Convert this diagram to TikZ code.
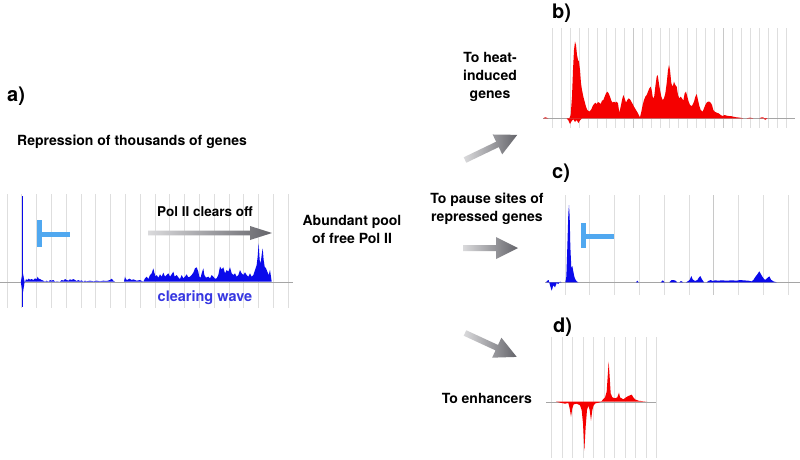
\documentclass[tikz,border=0pt]{standalone}
\usepackage{fontspec}
\setmainfont{TeX Gyre Heros}
\definecolor{sigblue}{RGB}{10,10,235}
\definecolor{sigred}{RGB}{245,0,0}
\definecolor{tblue}{RGB}{80,168,240}
\definecolor{wave}{RGB}{55,55,225}
\definecolor{gridc}{RGB}{222,222,222}
\definecolor{gridd}{RGB}{200,200,200}
\definecolor{basec}{RGB}{165,165,165}
\definecolor{arlight}{RGB}{218,218,220}
\definecolor{ardark}{RGB}{100,100,106}
\tikzset{
  lbl/.style={font=\bfseries\fontsize{14}{18}\selectfont, align=center, inner sep=0pt},
  panellbl/.style={font=\bfseries\fontsize{20}{22}\selectfont, inner sep=0pt, anchor=base west},
  gline/.style={gridc, line width=0.8pt},
  bline/.style={basec, line width=0.8pt},
  tbar/.style={tblue, line width=5pt},
  shadearrow/.style={left color=arlight, right color=ardark, draw=none}
}
\begin{document}
\begin{tikzpicture}[x=1pt,y=-1pt]
\useasboundingbox (0,0) rectangle (800,459);
\fill[white] (0,0) rectangle (800,459);

% ---------- labels ----------
\node[panellbl] (la) at (7,101) {a)};
\node[panellbl] (lb) at (552,18) {b)};
\node[panellbl] (lc) at (552,178) {c)};
\node[panellbl] (ld) at (553,332) {d)};
\node[lbl, anchor=base west] (rep) at (17,145) {Repression of thousands of genes};
\node[lbl] (pool) at (352,229) {Abundant pool\\of free Pol II};
\node[lbl] (heat) at (490,77) {To heat-\\induced\\genes};
\node[lbl] (pause) at (487,209) {To pause sites of\\repressed genes};
\node[lbl, anchor=east] (enh) at (532,398) {To enhancers};

% ---------- panel a ----------
\foreach \k in {0,...,19} \draw[gline] ({7+14.8*\k},194) -- ({7+14.8*\k},308);
\draw[bline] (0,282) -- (293,282);
\begin{scope}[shift={(0,180)}, scale=1/3]
\fill[sigblue] (75,305)--(78,298)--(82,300)--(86,296)--(90,299)--(95,297)--(100,300)--(105,295)--(110,298)--(113,290)--(116,296)--(120,297)--(125,300)--(130,302)--(135,305)--(140,302)--(145,305)--(150,300)--(155,302)--(160,300)--(165,305)--(170,304)--(180,305)--(185,300)--(190,302)--(195,297)--(200,300)--(205,302)--(210,298)--(215,300)--(220,297)--(225,300)--(230,303)--(235,300)--(240,303)--(245,301)--(250,305)--(255,302)--(260,304)--(270,302)--(280,304)--(290,302)--(300,304)--(310,302)--(320,303)--(330,300)--(335,296)--(340,302)--(345,305)--cycle;
\fill[sigblue] (372,305)--(375,290)--(378,298)--(382,300)--(388,296)--(395,300)--(400,298)--(410,302)--(420,300)--(430,305)--(435,295)--(440,290)--(445,297)--(450,285)--(455,280)--(460,265)--(463,278)--(467,290)--(470,285)--(475,293)--(480,283)--(485,290)--(490,278)--(495,290)--(500,285)--(505,280)--(510,290)--(515,283)--(520,275)--(524,290)--(530,285)--(535,292)--(540,297)--(545,285)--(550,295)--(555,290)--(560,283)--(565,292)--(570,290)--(575,285)--(580,278)--(585,265)--(590,262)--(595,275)--(598,290)--(602,293)--(605,280)--(610,265)--(613,285)--(618,293)--(625,290)--(630,295)--(635,285)--(640,290)--(645,296)--(650,295)--(655,285)--(660,260)--(665,268)--(670,262)--(675,280)--(680,270)--(685,275)--(690,262)--(695,280)--(700,285)--(705,280)--(710,290)--(715,285)--(720,270)--(725,280)--(730,285)--(735,277)--(740,285)--(745,290)--(750,280)--(755,290)--(760,285)--(765,270)--(770,255)--(773,230)--(776,190)--(779,240)--(782,250)--(785,225)--(788,205)--(791,240)--(794,260)--(798,265)--(802,275)--(806,285)--(810,270)--(813,290)--(815,305)--cycle;
\end{scope}
\draw[sigblue, line width=1.4pt] (22.7,196) -- (22.7,307);
\fill[sigblue] (20.8,282) -- (22.7,272) -- (24.6,282) -- (22.7,294) -- cycle;
\draw[tbar] (39.5,220) -- (39.5,247);
\draw[tbar] (39.5,234.5) -- (70,234.5);
\node[font=\bfseries\fontsize{13.5}{16}\selectfont, inner sep=0pt] (clr) at (205,212) {Pol II clears off};
\node[font=\bfseries\fontsize{14.5}{17}\selectfont, inner sep=0pt, text=wave] (wv) at (205,298) {clearing wave};
\coordinate (pa1) at (148,233);
\coordinate (pa2) at (272,233);
\shade[shadearrow] (pa1) ++(0,-2.3) -- ++(102,0) -- ++(0,-4.7) -- (pa2) -- ++(-22,7) -- ++(0,-4.7) -- ++(-102,0) -- cycle;

% ---------- gradient arrows to b, c, d ----------
\coordinate (tb) at (465,160);
\coordinate (tc) at (463,248);
\coordinate (td) at (465,333);
\begin{scope}[shift={(tb)}, rotate=25.7]
\shade[shadearrow] (0,-3) -- (36,-3) -- (36,-11) -- (58,0) -- (36,11) -- (36,3) -- (0,3) -- cycle;
\end{scope}
\begin{scope}[shift={(tc)}]
\shade[shadearrow] (0,-3) -- (33,-3) -- (33,-11) -- (55,0) -- (33,11) -- (33,3) -- (0,3) -- cycle;
\end{scope}
\begin{scope}[shift={(td)}, rotate=-24.8]
\shade[shadearrow] (0,-3) -- (35,-3) -- (35,-11) -- (57,0) -- (35,11) -- (35,3) -- (0,3) -- cycle;
\end{scope}

% ---------- panel b ----------
\foreach \k in {0,...,26} \draw[gline] ({552.7+9*\k},28) -- ({552.7+9*\k},128);
\draw[gridd, line width=0.8pt] (633.7,28) -- (633.7,128);
\draw[gridd, line width=0.8pt] (723.7,28) -- (723.7,128);
\draw[bline] (543,118) -- (795,118);
\begin{scope}[shift={(530,30)}, scale=1/3]
\fill[sigred] (40,265)--(45,262)--(50,263)--(55,265)--cycle;
\fill[sigred] (110,265)--(115,271)--(120,282)--(125,273)--(130,268)--(135,276)--(140,270)--(145,279)--(150,271)--(156,265)--cycle;
\fill[sigred] (118,265)--(122,255)--(126,200)--(129,120)--(132,60)--(135,35)--(138,45)--(141,75)--(144,90)--(147,95)--(150,120)--(153,160)--(156,180)--(160,200)--(164,215)--(168,230)--(172,240)--(178,245)--(184,238)--(188,228)--(192,222)--(196,218)--(200,222)--(204,216)--(208,218)--(212,222)--(216,212)--(220,210)--(224,200)--(228,190)--(232,185)--(236,190)--(240,200)--(244,212)--(248,218)--(252,215)--(256,218)--(260,215)--(264,220)--(268,248)--(272,230)--(276,210)--(280,195)--(284,205)--(288,218)--(292,210)--(296,205)--(300,208)--(304,215)--(308,222)--(312,230)--(318,240)--(324,250)--(330,262)--(334,245)--(338,225)--(342,210)--(346,200)--(350,195)--(354,185)--(358,175)--(362,170)--(365,180)--(368,200)--(372,205)--(376,170)--(380,140)--(383,135)--(386,155)--(390,180)--(394,200)--(398,210)--(402,205)--(406,190)--(410,160)--(414,120)--(417,105)--(420,120)--(424,160)--(428,170)--(432,155)--(436,165)--(440,170)--(444,195)--(448,205)--(452,200)--(456,205)--(460,212)--(464,190)--(468,185)--(472,200)--(476,215)--(480,225)--(486,228)--(492,215)--(496,200)--(500,192)--(504,210)--(508,228)--(512,240)--(518,245)--(522,235)--(526,225)--(530,218)--(534,215)--(538,215)--(542,218)--(546,225)--(550,240)--(554,245)--(560,248)--(566,250)--(572,255)--(578,258)--(584,255)--(590,257)--(596,258)--(602,258)--(610,260)--(620,262)--(630,263)--(640,265)--cycle;
\fill[sigred] (650,265)--(660,263)--(670,265)--cycle;
\fill[sigred] (688,265)--(695,262)--(700,262)--(705,270)--(712,265)--cycle;
\end{scope}

% ---------- panel c ----------
\foreach \k in {0,...,9} \draw[gline] ({565+24.8*\k},195) -- ({565+24.8*\k},295);
\draw[gridd, line width=0.8pt] (713.8,195) -- (713.8,295);
\draw[bline] (545,282) -- (800,282);
\begin{scope}[shift={(520,180)}, scale=1/3]
\fill[sigblue] (78,307)--(82,302)--(86,300)--(90,316)--(95,332)--(100,316)--(105,322)--(110,309)--(115,312)--(120,305)--(125,307)--cycle;
\fill[sigblue] (136,307)--(139,290)--(142,200)--(145,100)--(147,75)--(149,110)--(151,200)--(154,265)--(157,258)--(160,275)--(163,290)--(166,298)--(170,304)--(175,307)--cycle;
\fill[sigblue] (348,307)--(352,302)--(356,307)--cycle;
\fill[sigblue] (422,307)--(428,301)--(434,307)--cycle;
\fill[sigblue] (448,307)--(455,300)--(465,301)--(472,307)--cycle;
\fill[sigblue] (478,307)--(483,303)--(490,307)--cycle;
\fill[sigblue] (498,307)--(505,303)--(510,298)--(514,288)--(518,298)--(525,303)--(532,300)--(537,292)--(541,288)--(546,298)--(552,307)--cycle;
\fill[sigblue] (560,307)--(565,303)--(572,300)--(578,303)--(585,301)--(595,302)--(605,301)--(620,302)--(635,301)--(650,302)--(660,300)--(670,301)--(685,302)--(695,304)--(700,300)--(705,292)--(712,283)--(718,274)--(723,283)--(729,293)--(735,300)--(742,294)--(748,289)--(753,299)--(760,304)--(770,307)--cycle;
\end{scope}
\draw[tbar] (583,223) -- (583,248);
\draw[tbar] (583,236) -- (614,236);

% ---------- panel d ----------
\foreach \k in {0,...,10} \draw[gline] ({551.7+10.5*\k},337) -- ({551.7+10.5*\k},458);
\draw[bline] (546,402) -- (656,402);
\begin{scope}[shift={(520,310)}, scale=1/3]
\fill[sigred] (108,275)--(120,278)--(135,281)--(145,279)--(149,295)--(153,320)--(157,295)--(161,283)--(170,281)--(180,286)--(185,300)--(189,340)--(193,422)--(197,350)--(201,300)--(205,287)--(209,300)--(213,332)--(217,300)--(221,286)--(226,280)--(236,278)--(246,275)--cycle;
\fill[sigred] (244,275)--(249,268)--(255,262)--(260,245)--(263,200)--(266,155)--(269,200)--(272,250)--(277,262)--(285,265)--(292,262)--(297,248)--(300,262)--(310,268)--(318,262)--(325,258)--(335,254)--(340,262)--(345,268)--(355,272)--(370,274)--(382,275)--cycle;
\end{scope}
\end{tikzpicture}
\end{document}
